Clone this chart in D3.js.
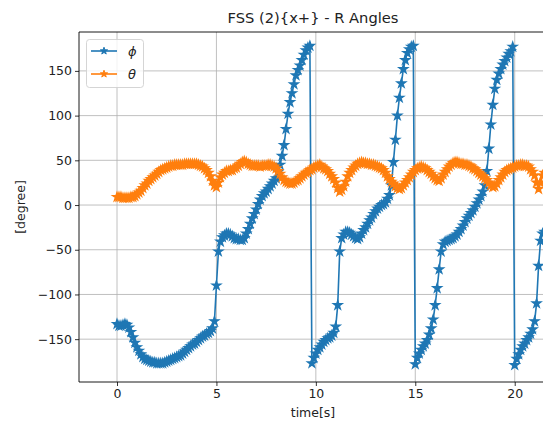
<!DOCTYPE html>
<html>
<head>
<meta charset="utf-8">
<script src="https://cdn.jsdelivr.net/npm/d3@7"></script>
<style>
  html, body { margin: 0; padding: 0; background: #fff; }
  svg { display: block; font-family: "DejaVu Sans", sans-serif; }
</style>
</head>
<body>
<svg id="chart" width="543" height="423"></svg>
<script>
// ---- data ----
const chartTitle = "FSS (2){x+} - R Angles";
const xLabel = "time[s]";
const yLabel = "[degree]";
const seriesNames = ["\u03D5", "\u03B8"];
const sampleStart = 0;
const sampleStep = 0.1;
const xTicks = [0, 5, 10, 15, 20];
const yTicks = [-150, -100, -50, 0, 50, 100, 150];

const phiValues = [
  -133,-135,-135,-134,-133,-134,-137,-142,-148,-154,
  -159,-163,-167,-170,-172,-173,-174,-175,-176,-176,
  -177,-177,-177,-177,-176,-175,-174,-173,-172,-171,
  -170,-169,-168,-166,-164,-162,-160,-158,-156,-155,
  -153,-151,-149,-147,-146,-144,-143,-141,-138,-130,
  -90,-52,-41,-36,-34,-32,-32,-33,-35,-37,
  -38,-38,-39,-39,-37,-32,-27,-21,-15,-10,
  -5,1,6,10,13,15,18,21,24,27,
  30,37,45,55,67,85,102,115,125,135,
  145,151,156,162,168,173,176,178,-177,-171,
  -166,-162,-159,-156,-153,-151,-149,-148,-146,-143,
  -136,-112,-52,-37,-33,-30,-30,-31,-33,-35,
  -37,-38,-36,-32,-28,-25,-21,-17,-14,-10,
  -7,-4,-2,0,1,3,7,11,22,48,
  73,100,120,136,152,162,170,174,177,178,
  -178,-171,-166,-162,-158,-155,-151,-145,-138,-128,
  -112,-93,-72,-52,-44,-41,-40,-39,-38,-37,
  -35,-33,-30,-27,-23,-19,-15,-12,-9,-6,
  -2,2,6,10,15,22,38,63,90,112,
  130,140,147,152,157,161,165,169,172,177,
  -179,-172,-167,-162,-158,-155,-151,-148,-144,-139,
  -130,-110,-68,-40,-32,-30
];

const thetaValues = [
  9,9,9,8,8,8,8,9,9,10,
  12,14,16,19,22,24,27,29,31,33,
  35,37,39,40,41,42,43,44,44,45,
  45,45,45,45,46,46,46,46,46,46,
  46,45,44,43,41,39,36,32,27,22,
  20,25,31,34,36,38,38,39,39,41,
  42,44,46,48,49,48,46,45,44,44,
  44,44,43,44,44,44,45,45,44,43,
  41,38,35,31,28,26,25,24,24,25,
  27,28,30,32,34,36,37,39,40,42,
  43,44,45,43,41,40,38,35,32,29,
  25,19,15,17,21,26,32,36,39,42,
  44,46,47,48,47,47,46,46,45,45,
  44,43,42,41,39,36,32,29,26,24,
  21,19,18,19,22,25,28,31,34,37,
  39,41,42,43,42,41,39,37,35,32,
  30,28,27,30,34,37,40,43,45,47,
  48,48,47,46,46,45,45,44,43,41,
  40,38,36,34,32,30,28,25,22,20,
  21,24,28,31,34,37,39,40,41,42,
  43,44,44,45,45,44,44,43,40,37,
  33,25,18,25,33,36
];

const seriesColors = ["#1f77b4", "#ff7f0e"];

// ---- layout ----
const W = 543, H = 423;
const plot = { left: 79, top: 32, right: 547, bottom: 382 };

const x = d3.scaleLinear().domain([-1.911, 21.624]).range([plot.left, plot.right]);
const y = d3.scaleLinear().domain([-197.9, 193.5]).range([plot.bottom, plot.top]);

const svg = d3.select("#chart");

svg.append("defs").append("clipPath").attr("id", "plotclip")
  .append("rect")
  .attr("x", plot.left).attr("y", plot.top)
  .attr("width", plot.right - plot.left).attr("height", plot.bottom - plot.top);

// grid
const grid = svg.append("g");
grid.selectAll("line.vg").data(xTicks).join("line")
  .attr("x1", d => x(d)).attr("x2", d => x(d))
  .attr("y1", plot.top).attr("y2", plot.bottom)
  .attr("stroke", "#b0b0b0").attr("stroke-width", 0.8);
grid.selectAll("line.hg").data(yTicks).join("line")
  .attr("x1", plot.left).attr("x2", plot.right)
  .attr("y1", d => y(d)).attr("y2", d => y(d))
  .attr("stroke", "#b0b0b0").attr("stroke-width", 0.8);

// series
const toPoints = vals => vals.map((v, i) => ({ t: sampleStart + i * sampleStep, v }));
const series = [toPoints(phiValues), toPoints(thetaValues)];

const line = d3.line().x(d => x(d.t)).y(d => y(d.v));
const star = d3.symbol().type(d3.symbolStar).size(24);
const legendStar = d3.symbol().type(d3.symbolStar).size(16);

const dataG = svg.append("g").attr("clip-path", "url(#plotclip)");
series.forEach((pts, k) => {
  const g = dataG.append("g");
  g.append("path").datum(pts)
    .attr("d", line).attr("fill", "none")
    .attr("stroke", seriesColors[k]).attr("stroke-width", 1.6);
  g.selectAll("path.m").data(pts).join("path")
    .attr("class", "m")
    .attr("d", star)
    .attr("transform", d => `translate(${x(d.t)},${y(d.v)})`)
    .attr("fill", seriesColors[k]).attr("stroke", seriesColors[k]).attr("stroke-width", 1.3);
});

// axes
const xAxis = d3.axisBottom(x).tickValues(xTicks).tickSizeOuter(0).tickSizeInner(4).tickPadding(3)
  .tickFormat(d3.format("d"));
const yAxis = d3.axisLeft(y).tickValues(yTicks).tickSizeOuter(0).tickSizeInner(4).tickPadding(3)
  .tickFormat(d => (d < 0 ? "\u2212" + Math.abs(d) : String(d)));

const gx = svg.append("g").attr("transform", `translate(0,${plot.bottom})`).call(xAxis);
const gy = svg.append("g").attr("transform", `translate(${plot.left},0)`).call(yAxis);
[gx, gy].forEach(g => {
  g.select(".domain").remove();
  g.selectAll(".tick line").attr("stroke", "#000").attr("stroke-width", 0.8);
  g.selectAll(".tick text").attr("fill", "#222").style("font-size", "12.5px")
    .style("font-family", "DejaVu Sans, sans-serif");
});

// spines
const sp = svg.append("g").attr("stroke", "#000").attr("stroke-width", 0.9).attr("fill", "none");
sp.append("line").attr("x1", plot.left).attr("x2", plot.left).attr("y1", plot.top).attr("y2", plot.bottom);
sp.append("line").attr("x1", plot.left).attr("x2", plot.right).attr("y1", plot.bottom).attr("y2", plot.bottom);
sp.append("line").attr("x1", plot.left).attr("x2", plot.right).attr("y1", plot.top).attr("y2", plot.top);

// title & labels
svg.append("text").attr("x", 313).attr("y", 23).attr("text-anchor", "middle")
  .style("font-size", "14.7px").attr("fill", "#222").text(chartTitle);
svg.append("text").attr("x", 313).attr("y", 417).attr("text-anchor", "middle")
  .style("font-size", "12.5px").attr("fill", "#222").text(xLabel);
svg.append("text").attr("transform", `translate(25,207) rotate(-90)`).attr("text-anchor", "middle")
  .style("font-size", "12.5px").attr("fill", "#222").text(yLabel);

// legend
const lg = svg.append("g");
lg.append("rect").attr("x", 86.5).attr("y", 39.5).attr("width", 57).attr("height", 48)
  .attr("rx", 3).attr("fill", "#fff").attr("fill-opacity", 0.8)
  .attr("stroke", "#d0d0d0").attr("stroke-width", 0.9);
seriesNames.forEach((name, k) => {
  const ly = 51 + k * 23;
  lg.append("line").attr("x1", 91).attr("x2", 117).attr("y1", ly).attr("y2", ly)
    .attr("stroke", seriesColors[k]).attr("stroke-width", 1.6);
  lg.append("path").attr("d", legendStar).attr("transform", `translate(104,${ly})`)
    .attr("fill", seriesColors[k]).attr("stroke", seriesColors[k]).attr("stroke-width", 1);
  lg.append("text").attr("x", 128).attr("y", ly + 4.5)
    .style("font-size", "13px").style("font-style", "italic").attr("fill", "#222").text(name);
});
</script>
</body>
</html>
